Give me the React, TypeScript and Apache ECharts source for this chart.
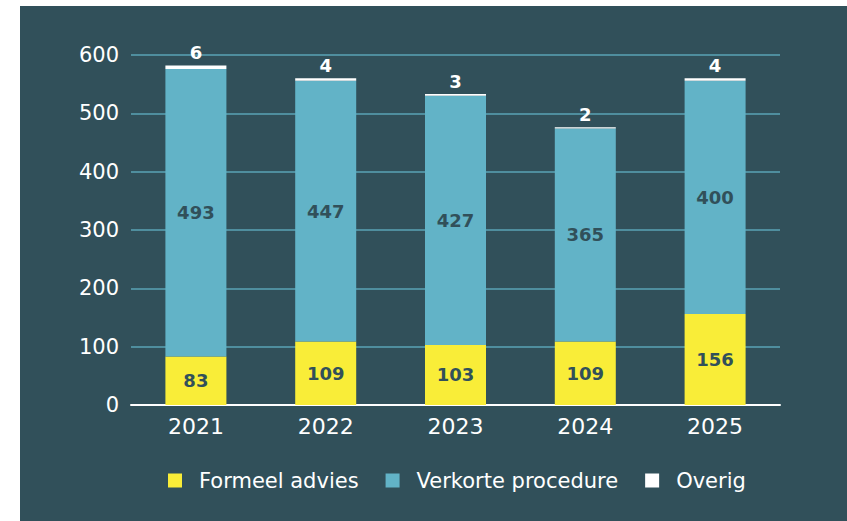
import React, { useEffect, useRef } from "react";
import * as echarts from "echarts";

const years = ["2021", "2022", "2023", "2024", "2025"];
const formeelAdvies = [83, 109, 103, 109, 156];
const verkorteProcedure = [493, 447, 427, 365, 400];
const overig = [6, 4, 3, 2, 4];
const yTicks = { min: 0, max: 600, interval: 100 };

const BG = "#31505a";
const YELLOW = "#f9ed38";
const TEAL = "#62b3c7";
const FONT = "'DejaVu Sans', sans-serif";
const VALUE_FONT = "'DejaVu Sans', sans-serif";

export default function App() {
  const ref = useRef<HTMLDivElement>(null);
  useEffect(() => {
    if (!ref.current) return;
    const chart = echarts.init(ref.current, undefined, { renderer: "svg" });
    chart.setOption({
      animation: false,
      backgroundColor: BG,
      grid: { left: 111, right: 67, top: 49, bottom: 116 },
      legend: {
        bottom: 25,
        left: 143,
        itemWidth: 14,
        itemHeight: 14,
        itemGap: 27,
        icon: "rect",
        textStyle: { color: "#ffffff", fontSize: 21, fontFamily: FONT, padding: [0, 0, 0, 12] },
        data: ["Formeel advies", "Verkorte procedure", "Overig"],
      },
      xAxis: {
        type: "category",
        data: years,
        axisLine: { lineStyle: { color: "#ffffff", width: 2 } },
        axisTick: { show: false },
        axisLabel: { color: "#ffffff", fontSize: 22, fontFamily: FONT, margin: 10 },
      },
      yAxis: {
        type: "value",
        min: yTicks.min,
        max: yTicks.max,
        interval: yTicks.interval,
        axisLine: { show: false },
        axisTick: { show: false },
        splitLine: { lineStyle: { color: "#4f8e9e", width: 2 } },
        axisLabel: { color: "#ffffff", fontSize: 21, fontFamily: FONT, margin: 12 },
      },
      series: [
        {
          name: "Formeel advies",
          type: "bar",
          stack: "total",
          barWidth: 61,
          data: formeelAdvies,
          itemStyle: { color: YELLOW },
          label: {
            show: true,
            position: "inside",
            color: BG,
            fontSize: 18,
            fontWeight: "bold",
            fontFamily: VALUE_FONT,
          },
        },
        {
          name: "Verkorte procedure",
          type: "bar",
          stack: "total",
          data: verkorteProcedure,
          itemStyle: { color: TEAL },
          label: {
            show: true,
            position: "inside",
            color: BG,
            fontSize: 18,
            fontWeight: "bold",
            fontFamily: VALUE_FONT,
          },
        },
        {
          name: "Overig",
          type: "bar",
          stack: "total",
          data: overig,
          itemStyle: { color: "#ffffff" },
          label: {
            show: true,
            position: "top",
            distance: 4,
            color: "#ffffff",
            fontSize: 18,
            fontWeight: "bold",
            fontFamily: VALUE_FONT,
          },
        },
      ],
    });
    return () => chart.dispose();
  }, []);
  return (
    <div style={{ position: "fixed", left: 0, top: 0, width: 847, height: 521, background: "#ffffff" }}>
      <div ref={ref} style={{ position: "absolute", left: 20, top: 6, width: 827, height: 515 }} />
    </div>
  );
}
